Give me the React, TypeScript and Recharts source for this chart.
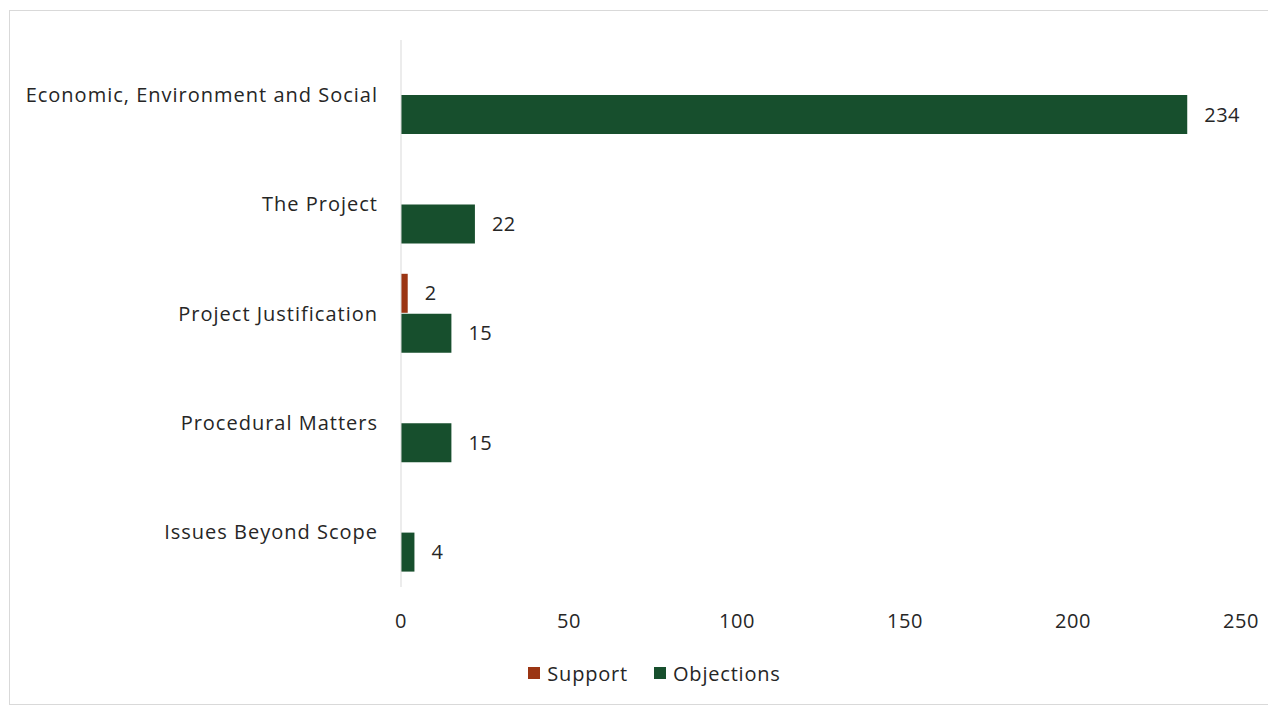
import React from 'react';
import { BarChart, Bar, XAxis, YAxis, Legend, LabelList } from 'recharts';

const categories = [
  'Economic, Environment and Social',
  'The Project',
  'Project Justification ',
  'Procedural Matters',
  'Issues Beyond Scope',
];
const supportValues = [0, 0, 2, 0, 0];
const objectionValues = [234, 22, 15, 15, 4];
const xTicks = [0, 50, 100, 150, 200, 250];

const data = categories.map((name, i) => ({
  name,
  support: supportValues[i],
  objections: objectionValues[i],
}));

const FONT = '"Open Sans", "Noto Sans", sans-serif';
const TEXT = '#262626';
const SUPPORT = '#9b3513';
const OBJECT = '#174f2d';

const fmt = (v: any) => (v ? v : '');

const LegendContent = () => (
  <div
    style={{
      display: 'flex',
      justifyContent: 'center',
      alignItems: 'center',
      fontFamily: FONT,
      fontSize: 20,
      letterSpacing: 0.8,
      color: TEXT,
      height: 30,
      paddingLeft: 58,
    }}
  >
    <span style={{ display: 'inline-block', width: 12, height: 12, background: SUPPORT, marginRight: 7 }} />
    <span style={{ marginRight: 26 }}>Support</span>
    <span style={{ display: 'inline-block', width: 12, height: 12, background: OBJECT, marginRight: 7 }} />
    <span>Objections</span>
  </div>
);

const tickStyle = { fill: TEXT, fontSize: 20, fontFamily: FONT, letterSpacing: 0.5 };

export default function App() {
  return (
    <div
      style={{
        width: 1265,
        height: 693,
        border: '1px solid #d9d9d9',
        marginTop: 2,
        marginLeft: 1,
        background: '#fff',
      }}
    >
      <BarChart
        width={1265}
        height={693}
        data={data}
        layout="vertical"
        margin={{ top: 29, right: 34, left: 0, bottom: 16 }}
        barGap={1}
        barSize={39}
      >
        <XAxis
          type="number"
          domain={[0, 250]}
          ticks={xTicks}
          axisLine={false}
          tickLine={false}
          tickSize={0}
          tickMargin={27}
          height={71}
          tick={tickStyle}
        />
        <YAxis
          type="category"
          dataKey="name"
          width={391}
          axisLine={{ stroke: '#d9d9d9', strokeWidth: 1 }}
          tickLine={false}
          tickSize={0}
          tickMargin={23}
          tick={{ fill: TEXT, fontSize: 20, fontFamily: FONT, letterSpacing: 1 }}
        />
        <Legend verticalAlign="bottom" content={<LegendContent />} />
        <Bar dataKey="support" name="Support" fill={SUPPORT} isAnimationActive={false}>
          <LabelList
            dataKey="support"
            position="right"
            offset={17}
            formatter={fmt}
            style={tickStyle}
          />
        </Bar>
        <Bar dataKey="objections" name="Objections" fill={OBJECT} isAnimationActive={false}>
          <LabelList
            dataKey="objections"
            position="right"
            offset={17}
            formatter={fmt}
            style={tickStyle}
          />
        </Bar>
      </BarChart>
    </div>
  );
}
